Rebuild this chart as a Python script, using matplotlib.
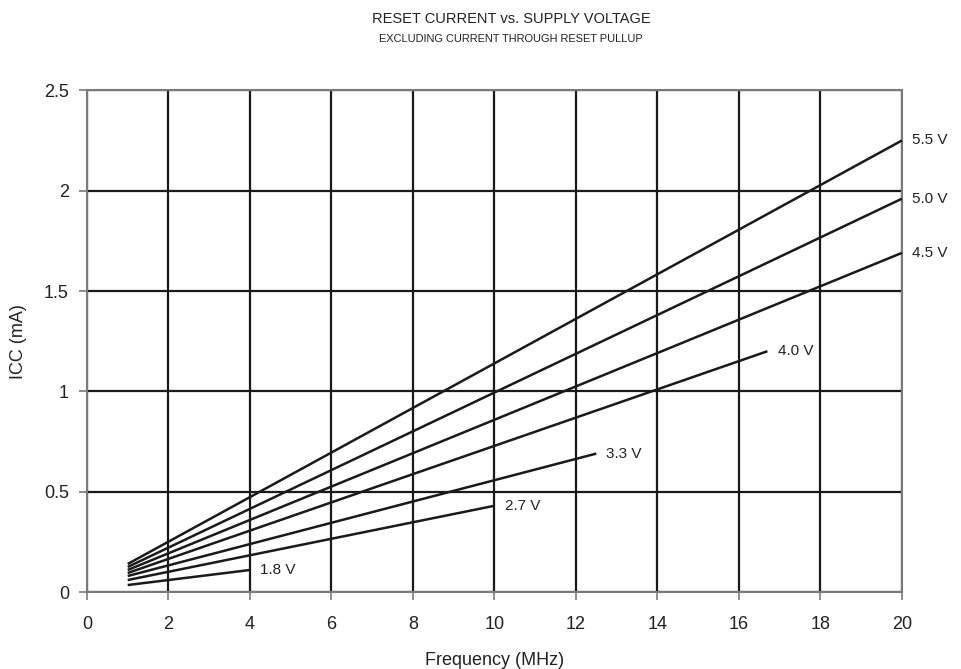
import numpy as np
import matplotlib.pyplot as plt

plt.rcParams['font.family'] = ['Liberation Sans', 'DejaVu Sans']

# supply voltages, start/end of each line (frequency MHz, ICC mA)
voltages = ['5.5 V', '5.0 V', '4.5 V', '4.0 V', '3.3 V', '2.7 V', '1.8 V']
freq_start = [1, 1, 1, 1, 1, 1, 1]
freq_end = [20, 20, 20, 16.7, 12.5, 10, 4]
icc_start = [0.14, 0.125, 0.11, 0.095, 0.08, 0.06, 0.035]
icc_end = [2.25, 1.96, 1.69, 1.2, 0.69, 0.43, 0.11]

x_ticks = [0, 2, 4, 6, 8, 10, 12, 14, 16, 18, 20]
y_ticks = [0, 0.5, 1, 1.5, 2, 2.5]
y_ticklabels = ['0', '0.5', '1', '1.5', '2', '2.5']

fig = plt.figure(figsize=(9.61, 6.69), dpi=100)
ax = fig.add_axes([0.0905, 0.115, 0.848, 0.75])

spine_c = '#7a7a7a'
for s in ax.spines.values():
    s.set_color(spine_c)
    s.set_linewidth(1.5)

ax.set_xlim(0, 20)
ax.set_ylim(0, 2.5)
ax.set_xticks(x_ticks)
ax.set_yticks(y_ticks)
ax.set_yticklabels(y_ticklabels)
ax.tick_params(colors=spine_c, labelcolor='#222222', labelsize=13,
               length=6, width=1.2)
ax.tick_params(axis='x', pad=11)
ax.tick_params(axis='y', pad=7)
ax.grid(True, color='#1a1a1a', linewidth=1.6)
ax.set_axisbelow(True)

for v, x0, x1, y0, y1 in zip(voltages, freq_start, freq_end, icc_start, icc_end):
    ax.plot([x0, x1], [y0, y1], color='#1a1a1a', linewidth=1.8,
            solid_capstyle='butt', clip_on=False, zorder=3)
    ax.text(x1 + 0.25, y1, v, fontsize=11, color='#222222',
            va='center', ha='left', zorder=4,
            bbox=dict(facecolor='white', edgecolor='none', pad=1.5))

ax.set_xlabel('Frequency (MHz)', fontsize=13, color='#222222', labelpad=14)
ax.set_ylabel('ICC (mA)', fontsize=13, color='#222222', labelpad=12)

fig.text(0.532, 0.972, 'RESET CURRENT vs. SUPPLY VOLTAGE', ha='center',
         va='center', fontsize=10.5, color='#222222')
fig.text(0.532, 0.941, 'EXCLUDING CURRENT THROUGH RESET PULLUP', ha='center',
         va='center', fontsize=7.9, color='#222222')

fig.savefig('out.png', dpi=100)
